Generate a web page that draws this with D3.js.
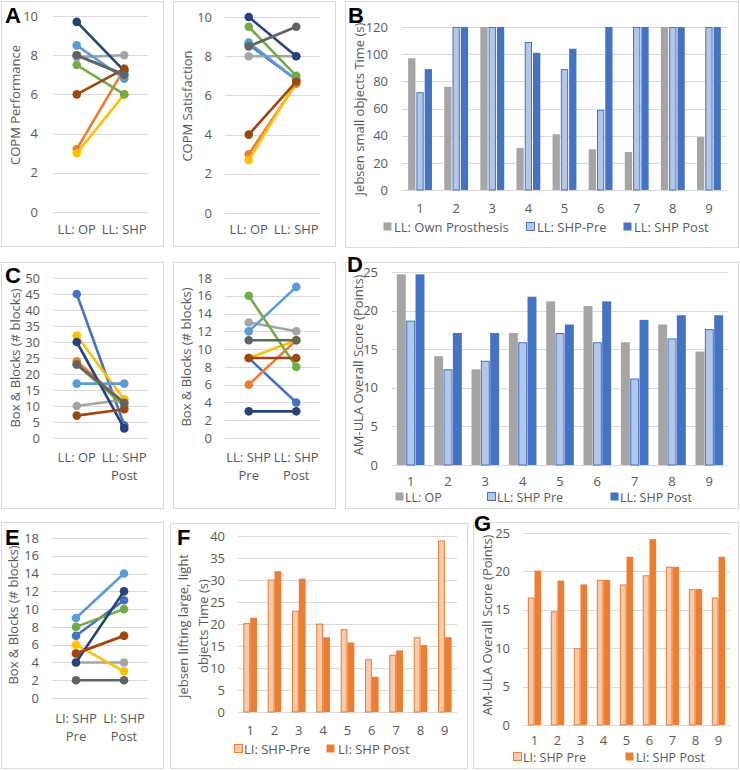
<!DOCTYPE html>
<html><head><meta charset="utf-8">
<script src="https://cdn.jsdelivr.net/npm/d3@7"></script>
<style>
body{margin:0;background:#fff;}
svg text{font-family:"Open Sans","Noto Sans",sans-serif;}
</style></head><body>
<svg id="fig" width="740" height="770"></svg>
<script>
// ---------- DATA ----------
const participants = ["1","2","3","4","5","6","7","8","9"];
// line panels: participant order 1..9
const copmPerfOP   = [8.0,3.2,7.9,3.0,8.5,7.5,9.7,6.0,8.0];
const copmPerfSHP  = [7.0,7.3,8.0,6.0,6.8,6.0,7.2,7.3,7.0];
const copmSatOP    = [8.6,3.0,8.0,2.7,8.7,9.5,10.0,4.0,8.5];
const copmSatSHP   = [6.8,6.6,8.0,6.7,6.8,7.0,8.0,6.7,9.5];
const bbLLOP       = [45,24,10,32,17,23,30,7,23];
const bbLLPostA    = [4,11,12,12,17,10,3,9,11];
const bbLLPre      = [9,6,13,9,12,16,3,9,11];
const bbLLPost     = [4,11,12,11,17,8,3,9,11];
const bbLIPre      = [7,5,4,6,9,8,4,5,2];
const bbLIPost     = [11,7,4,3,14,10,12,7,2];
// bar panels
const jebsenSmallOP   = [97,76,120,31,41,30,28,120,39];
const jebsenSmallPre  = [72,120,120,109,89,59,120,120,120];
const jebsenSmallPost = [89,120,120,101,104,120,120,120,120];
const amulaLLOP   = [24.7,14.1,12.4,17.1,21.2,20.6,15.9,18.2,14.7];
const amulaLLPre  = [18.7,12.4,13.5,15.9,17.1,15.9,11.2,16.4,17.6];
const amulaLLPost = [24.7,17.1,17.1,21.8,18.2,21.2,18.8,19.4,19.4];
const jebsenLargePre  = [20.2,30.1,23.0,20.1,18.8,12.0,13.0,17.0,39.0];
const jebsenLargePost = [21.4,32.0,30.3,17.0,15.8,8.0,14.0,15.2,17.0];
const amulaLIPre  = [16.6,14.8,10.0,18.9,18.3,19.5,20.6,17.7,16.6];
const amulaLIPost = [20.1,18.8,18.3,18.9,21.9,24.2,20.6,17.7,21.9];
// tick labels / categories
const ticks0to10 = [0,2,4,6,8,10];
const ticks0to50 = [0,5,10,15,20,25,30,35,40,45,50];
const ticks0to18 = [0,2,4,6,8,10,12,14,16,18];
const ticks0to120 = [0,20,40,60,80,100,120];
const ticks0to25 = [0,5,10,15,20,25];
const ticks0to40 = [0,5,10,15,20,25,30,35,40];
const catsCOPM = [["LL: OP"],["LL: SHP"]];
const catsBBLL = [["LL: OP"],["LL: SHP","Post"]];
const catsBBLL2 = [["LL: SHP","Pre"],["LL: SHP","Post"]];
const catsBBLI = [["LI: SHP","Pre"],["LI: SHP","Post"]];

// ---------- STYLE ----------
const lineColors = ["#4472C4","#ED7D31","#A5A5A5","#FFC000","#5B9BD5","#70AD47","#264478","#9E480E","#636363"];
const TXT = "#595959", GRID = "#D9D9D9", FS = 13;
const svg = d3.select("#fig");

function frame(x,y,w,h){
  svg.append("rect").attr("x",x+0.5).attr("y",y+0.5).attr("width",w).attr("height",h)
    .attr("fill","#fff").attr("stroke","#D9D9D9").attr("stroke-width",1);
}
function letter(t,x,y){
  svg.append("text").text(t).attr("x",x).attr("y",y)
    .style("font-family","'Liberation Sans',Arial,sans-serif").style("font-weight","bold")
    .style("font-size","22px").attr("fill","#000");
}
function yGridAxis(g,y,ticks,gx0,gx1,labelX){
  g.append("g").selectAll("line").data(ticks).join("line")
    .attr("x1",gx0).attr("x2",gx1).attr("y1",d=>Math.round(y(d))+0.5).attr("y2",d=>Math.round(y(d))+0.5)
    .attr("stroke",GRID).attr("stroke-width",1);
  const ax = g.append("g").attr("transform",`translate(${labelX},0)`)
    .call(d3.axisLeft(y).tickValues(ticks).tickSize(0).tickPadding(0));
  ax.select(".domain").remove();
  ax.selectAll("text").attr("fill",TXT).style("font-size",FS+"px").style("font-family",null);
}
function yTitle(lines,cx,cy){
  const t = svg.append("text").attr("transform",`translate(${cx},${cy}) rotate(-90)`)
    .attr("text-anchor","middle").attr("fill",TXT).style("font-size",FS+"px");
  lines.forEach((l,i)=>t.append("tspan").attr("x",0).attr("dy",i===0?"0.35em":"1.55em").text(l));
}

function linePanel(o){
  const g = svg.append("g");
  const y = d3.scaleLinear().domain([0,o.max]).range([o.yb,o.yt]);
  const x = d3.scalePoint().domain([0,1]).range([o.gx0,o.gx1]).padding(0.5);
  yGridAxis(g,y,o.ticks,o.gx0,o.gx1,o.labelX);
  o.cats.forEach((lines,ci)=>{
    lines.forEach((l,li)=>{
      g.append("text").attr("x",x(ci)).attr("y",o.catY+li*18).attr("text-anchor","middle")
        .attr("fill",TXT).style("font-size",FS+"px").text(l);
    });
  });
  const pairs = o.a.map((v,i)=>({i,a:v,b:o.b[i]}));
  const s = g.append("g").selectAll("g").data(pairs).join("g");
  s.append("line").attr("x1",x(0)).attr("x2",x(1)).attr("y1",d=>y(d.a)).attr("y2",d=>y(d.b))
    .attr("stroke",d=>lineColors[d.i]).attr("stroke-width",2.6);
  s.selectAll("circle").data(d=>[[0,d.a,d.i],[1,d.b,d.i]]).join("circle")
    .attr("cx",d=>x(d[0])).attr("cy",d=>y(d[1])).attr("r",4.3).attr("fill",d=>lineColors[d[2]]);
  yTitle(o.title,o.tx,o.ty);
}

function barPanel(o){
  const g = svg.append("g");
  const y = d3.scaleLinear().domain([0,o.max]).range([o.yb,o.yt]);
  const x = d3.scaleBand().domain(participants).range([o.gx0,o.gx1]).paddingInner(o.pad).paddingOuter(o.pad/2);
  const xs = d3.scaleBand().domain(d3.range(o.series.length)).range([0,x.bandwidth()]).paddingInner(o.subPad);
  yGridAxis(g,y,o.ticks,o.gx0,o.gx1,o.labelX);
  o.series.forEach((s,si)=>{
    g.append("g").selectAll("rect").data(s.vals).join("rect")
      .attr("x",(d,i)=>x(participants[i])+xs(si)+(s.stroke?0.5:0))
      .attr("width",xs.bandwidth()-(s.stroke?1:0))
      .attr("y",d=>y(d)+(s.stroke?0.5:0))
      .attr("height",d=>y(0)-y(d)-(s.stroke?0.5:0))
      .attr("fill",s.fill).attr("stroke",s.stroke||"none").attr("stroke-width",1);
  });
  const ax = g.append("g").attr("transform",`translate(0,${o.catY})`)
    .call(d3.axisBottom(x).tickSize(0).tickPadding(0));
  ax.select(".domain").remove();
  ax.selectAll("text").attr("y",0).attr("dy",0).attr("fill",TXT).style("font-size",FS+"px").style("font-family",null);
  // legend
  o.series.forEach((s,si)=>{
    const lx = o.legend[si];
    g.append("rect").attr("x",lx[0]+0.5).attr("y",o.legY-9.5).attr("width",8).attr("height",8)
      .attr("fill",s.fill).attr("stroke",s.stroke||"none");
    g.append("text").attr("x",lx[1]).attr("y",o.legY).attr("fill",TXT).style("font-size",(o.legFS||FS)+"px").text(s.name);
  });
  yTitle(o.title,o.tx,o.ty);
}

// ---------- FRAMES ----------
frame(1,1,162,245); frame(173,1,162,245); frame(345,1,393,246);
frame(1,262,162,246); frame(173,262,162,246); frame(345,262,393,246);
frame(1,522,162,246); frame(170,523,297,245); frame(473,522,265,246);

// ---------- PANELS ----------
linePanel({max:10,yb:212,yt:16,gx0:53,gx1:148,labelX:38,ticks:ticks0to10,cats:catsCOPM,catY:234,
  a:copmPerfOP,b:copmPerfSHP,title:["COPM Performance"],tx:15,ty:105});
linePanel({max:10,yb:213,yt:17,gx0:225,gx1:320,labelX:212,ticks:ticks0to10,cats:catsCOPM,catY:234,
  a:copmSatOP,b:copmSatSHP,title:["COPM Satisfaction"],tx:187,ty:106});
barPanel({max:120,yb:190,yt:27,gx0:402,gx1:727,labelX:388,ticks:ticks0to120,pad:0.34,subPad:0.12,catY:213,
  series:[{vals:jebsenSmallOP,fill:"#A5A5A5",name:"LL: Own Prosthesis"},
          {vals:jebsenSmallPre,fill:"#B4C7E7",stroke:"#4472C4",name:"LL: SHP-Pre"},
          {vals:jebsenSmallPost,fill:"#4472C4",name:"LL: SHP Post"}],
  legend:[[383,394],[526,537],[623,634]],legY:232,title:["Jebsen small objects Time (s)"],tx:359,ty:109});

linePanel({max:50,yb:438,yt:278,gx0:53,gx1:148,labelX:40,ticks:ticks0to50,cats:catsBBLL,catY:462,
  a:bbLLOP,b:bbLLPostA,title:["Box & Blocks (# blocks)"],tx:15,ty:358});
linePanel({max:18,yb:438,yt:278,gx0:225,gx1:320,labelX:212,ticks:ticks0to18,cats:catsBBLL2,catY:462,
  a:bbLLPre,b:bbLLPost,title:["Box & Blocks (# blocks)"],tx:186,ty:357});
barPanel({max:25,yb:465,yt:272,gx0:392,gx1:728,labelX:378,ticks:ticks0to25,pad:0.26,subPad:0.04,catY:486,
  series:[{vals:amulaLLOP,fill:"#A5A5A5",name:"LL: OP"},
          {vals:amulaLLPre,fill:"#B4C7E7",stroke:"#4472C4",name:"LL: SHP Pre"},
          {vals:amulaLLPost,fill:"#4472C4",name:"LL: SHP Post"}],
  legend:[[395,405],[487,497],[610,620]],legY:502,legFS:12.5,title:["AM-ULA Overall Score (Points)"],tx:358,ty:365});

linePanel({max:18,yb:698,yt:538,gx0:52,gx1:148,labelX:39,ticks:ticks0to18,cats:catsBBLI,catY:723,
  a:bbLIPre,b:bbLIPost,title:["Box & Blocks (# blocks)"],tx:13,ty:615});
barPanel({max:40,yb:712,yt:536,gx0:238,gx1:457,labelX:225,ticks:ticks0to40,pad:0.44,subPad:0.0,catY:735,
  series:[{vals:jebsenLargePre,fill:"#F8CBAD",stroke:"#ED7D31",name:"LI: SHP-Pre"},
          {vals:jebsenLargePost,fill:"#ED7D31",name:"LI: SHP Post"}],
  legend:[[234,244],[326,338]],legY:754,title:["Jebsen lifting large, light","objects Time (s)"],tx:183,ty:626});
barPanel({max:25,yb:725,yt:533,gx0:523,gx1:730,labelX:510,ticks:ticks0to25,pad:0.42,subPad:0.0,catY:745,
  series:[{vals:amulaLIPre,fill:"#F8CBAD",stroke:"#ED7D31",name:"LI: SHP Pre"},
          {vals:amulaLIPost,fill:"#ED7D31",name:"LI: SHP Post"}],
  legend:[[513,523],[625,636]],legY:762,legFS:12.5,title:["AM-ULA Overall Score (Points)"],tx:487,ty:625});

letter("A",5,23); letter("B",348,23); letter("C",5,283); letter("D",347,272);
letter("E",5,545); letter("F",177,545); letter("G",474,531);
</script></body></html>
